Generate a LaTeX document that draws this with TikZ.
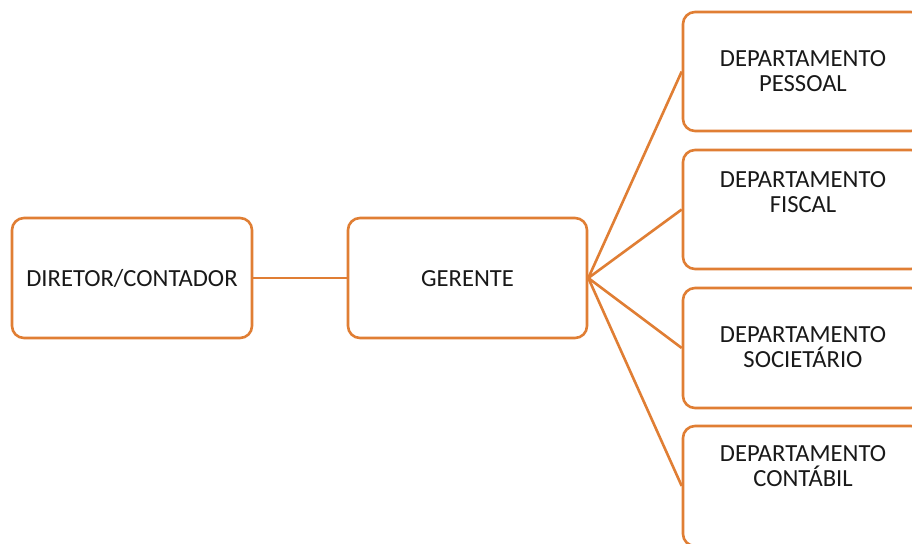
\documentclass[tikz,border=0pt]{standalone}
\usepackage{fontspec}
\setmainfont{Carlito}
\definecolor{boxorange}{RGB}{224,126,52}
\definecolor{txtgray}{RGB}{25,25,25}
\tikzset{
  orgbox/.style={draw=boxorange, line width=2.6pt, rounded corners=12pt, fill=white,
    minimum width=240pt, minimum height=120pt, inner sep=0pt},
  orglabel/.style={align=center, text=txtgray, inner sep=0pt,
    font=\fontsize{24.6}{25}\selectfont},
  orgline/.style={draw=boxorange, line width=2.6pt}
}
\begin{document}
\begin{tikzpicture}[x=1pt, y=-1pt]
\useasboundingbox (0,0) rectangle (912,543);
\clip (0,0) rectangle (912,543);
\fill[white] (0,0) rectangle (912,543);
% boxes
\node[orgbox] (dir) at (132,278) {};
\node[orgbox, minimum width=239pt] (ger) at (467.5,278) {};
\node[orgbox, minimum height=119pt] (d1) at (803,71.5) {};
\node[orgbox, minimum height=119pt] (d2) at (803,209.5) {};
\node[orgbox] (d3) at (803,348) {};
\node[orgbox] (d4) at (803,486) {};
% connectors
\draw[orgline] (dir.east) -- (ger.west);
\draw[orgline] (ger.east) -- (d1.west);
\draw[orgline] (ger.east) -- (d2.west);
\draw[orgline] (ger.east) -- (d3.west);
\draw[orgline] (ger.east) -- (d4.west);
% texts
\node[orglabel, anchor=base] (tdir) at (132,286) {DIRETOR/CONTADOR};
\node[orglabel, anchor=base] (tger) at (467.5,286) {GERENTE};
\node[orglabel] (t1) at (803,71.2) {DEPARTAMENTO\\PESSOAL};
\node[orglabel] (t2) at (803,191.7) {DEPARTAMENTO\\FISCAL};
\node[orglabel] (t3) at (803,346.7) {DEPARTAMENTO\\SOCIETÁRIO};
\node[orglabel] (t4) at (803,466) {DEPARTAMENTO\\CONTÁBIL};
\end{tikzpicture}
\end{document}
